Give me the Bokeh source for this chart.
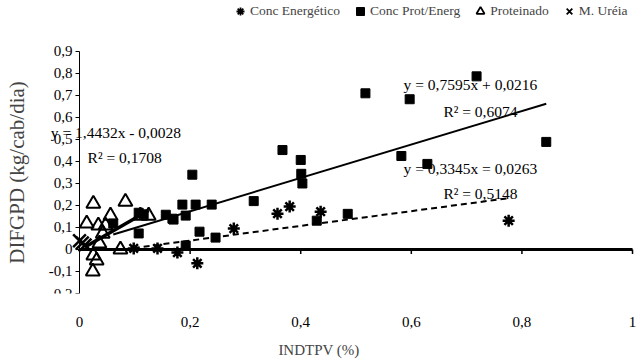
from bokeh.plotting import figure
from bokeh.models import (Range1d, Label, Legend, LegendItem, FixedTicker,
                          CustomJSTickFormatter)
from bokeh.embed import file_html
from bokeh.resources import INLINE

FONT = "Liberation Serif"

# ---- data ----
ene_x = [0.098, 0.141, 0.177, 0.213, 0.279, 0.358, 0.380, 0.436, 0.776]
ene_y = [0.005, 0.005, -0.014, -0.063, 0.095, 0.163, 0.195, 0.172, 0.131]

pe_x = [0.718, 0.517, 0.597, 0.367, 0.400, 0.401, 0.403, 0.582, 0.629, 0.844,
        0.315, 0.485, 0.429, 0.204, 0.186, 0.210, 0.239, 0.192, 0.168, 0.217,
        0.246, 0.192, 0.107, 0.116, 0.061, 0.107, 0.156, 0.170]
pe_y = [0.787, 0.710, 0.683, 0.452, 0.407, 0.344, 0.300, 0.425, 0.389, 0.489,
        0.220, 0.162, 0.131, 0.340, 0.204, 0.204, 0.204, 0.154, 0.140, 0.081,
        0.054, 0.018, 0.167, 0.160, 0.118, 0.073, 0.158, 0.136]

pro_x = [0.025, 0.083, 0.013, 0.034, 0.047, 0.056, 0.110, 0.125, 0.036, 0.025,
         0.031, 0.024, 0.074, 0.042]
pro_y = [0.208, 0.217, 0.118, 0.109, 0.109, 0.154, 0.154, 0.154, 0.027, -0.027,
         -0.050, -0.100, 0.000, 0.072]

ure_x = [0.000, 0.005, 0.010]
ure_y = [0.040, 0.030, 0.020]

# trendline coefficients (slope, intercept)
pe_a, pe_b = 0.7595, 0.0216
pro_a, pro_b = 1.4432, -0.0028
ene_a, ene_b = 0.3345, -0.0263

x_ticks = [0, 0.2, 0.4, 0.6, 0.8, 1.0]
y_ticks = [-0.2, -0.1, 0, 0.1, 0.2, 0.3, 0.4, 0.5, 0.6, 0.7, 0.8, 0.9]

series_names = ["Conc Energ\u00e9tico", "Conc Prot/Energ", "Proteinado", "M. Ur\u00e9ia"]

eq_texts = [
    "y = 0,7595x + 0,0216", "R\u00b2 = 0,6074",
    "y = 1,4432x - 0,0028", "R\u00b2 = 0,1708",
    "y = 0,3345x = 0,0263", "R\u00b2 = 0,5148",
]

NAN = float("nan")

# frame covers the whole picture except the bottom strip (so no text gets clipped)
p = figure(width=637, height=363, x_range=Range1d(-0.1429, 1.009), y_range=Range1d(-0.2, 1.1318),
           output_backend="svg", toolbar_location=None,
           min_border_left=0, min_border_right=0, min_border_top=0, min_border_bottom=70)
p.outline_line_color = None
p.xgrid.visible = False
p.ygrid.visible = False
p.background_fill_color = "white"
p.border_fill_color = "white"

fmt = CustomJSTickFormatter(code="""
if (Math.abs(tick) < 1e-9) return '0';
if (Math.abs(tick - Math.round(tick)) < 1e-9) return String(Math.round(tick));
return tick.toFixed(1).replace('.', ',');
""")

# x axis: labels only, at the bottom
xa = p.xaxis[0]
xa.ticker = FixedTicker(ticks=x_ticks)
xa.formatter = fmt
xa.axis_line_color = None
xa.major_tick_line_color = None
xa.minor_tick_line_color = None
xa.major_tick_out = 0
xa.major_tick_in = 0
xa.major_label_standoff = 23
xa.major_label_text_font = FONT
xa.major_label_text_font_size = "15px"
xa.major_label_text_color = "black"
xa.axis_label = "INDTPV (%)"
xa.axis_label_text_font = FONT
xa.axis_label_text_font_size = "15px"
xa.axis_label_text_font_style = "normal"
xa.axis_label_standoff = 12

# y axis drawn at x = 0
ya = p.yaxis[0]
ya.fixed_location = 0
ya.bounds = (-0.2, 0.9)
ya.ticker = FixedTicker(ticks=y_ticks)
ya.formatter = fmt
ya.axis_line_color = "black"
ya.axis_line_width = 1
ya.major_tick_line_color = "black"
ya.major_tick_out = 4
ya.major_tick_in = 0
ya.minor_tick_line_color = None
ya.major_label_standoff = 3
ya.major_label_text_font = FONT
ya.major_label_text_font_size = "15px"
ya.major_label_text_color = "black"
ya.axis_label = "DIFGPD (kg/cab/dia)"
ya.axis_label_text_font = FONT
ya.axis_label_text_font_size = "21px"
ya.axis_label_text_font_style = "normal"
ya.axis_label_standoff = 17

# zero line acting as the x axis, with its tick marks
p.line([x_ticks[0], x_ticks[-1]], [0, 0], line_color="black", line_width=3)
p.segment(x0=x_ticks[1:], y0=[0] * 5, x1=x_ticks[1:], y1=[-0.02] * 5,
          line_color="black", line_width=1.5)

# markers
r_pe = p.scatter(pe_x, pe_y, marker="square", size=9, color="black")
r_pro = p.scatter(pro_x, pro_y, marker="triangle", size=14, line_color="black",
                  fill_color=None, line_width=2)
r_ene = p.scatter(ene_x, ene_y, marker="asterisk", size=12, line_color="black", line_width=2.5)
r_ure = p.scatter(ure_x, ure_y, marker="x", size=18, line_color="black", line_width=2.5)

# trendlines
def trend(xs, a, b):
    x0, x1 = min(xs), max(xs)
    return [x0, x1], [a * x0 + b, a * x1 + b]

tx, ty = trend(pe_x, pe_a, pe_b)
p.line(tx, ty, line_color="black", line_width=2)
tx, ty = trend(pro_x, pro_a, pro_b)
p.line(tx, ty, line_color="black", line_width=3.5)
tx, ty = trend(ene_x, ene_a, ene_b)
p.line(tx, ty, line_color="black", line_width=2, line_dash="6 4")

# equation labels
label_pos = [(0.586, 0.751), (0.658, 0.629), (-0.052, 0.534), (0.0145, 0.416),
             (0.586, 0.367), (0.658, 0.253)]
for t, (lx, ly) in zip(eq_texts, label_pos):
    p.add_layout(Label(x=lx, y=ly, text=t, text_font=FONT, text_font_size="15.5px",
                       text_baseline="middle", text_align="left", text_color="black"))

# legend key renderers (one NaN point each, so they draw nothing in the plot)
k_ene = p.scatter([NAN], [NAN], marker="asterisk", size=9, line_color="black", line_width=1.8)
k_pe = p.scatter([NAN], [NAN], marker="square", size=9, color="black")
k_pro = p.scatter([NAN], [NAN], marker="triangle", size=9, line_color="black",
                  fill_color=None, line_width=1.8)
k_ure = p.scatter([NAN], [NAN], marker="x", size=9, line_color="black", line_width=1.8)

legend = Legend(items=[LegendItem(label=n, renderers=[r])
                       for n, r in zip(series_names, [k_ene, k_pe, k_pro, k_ure])],
                orientation="horizontal", location=(230, 271), border_line_color=None,
                background_fill_alpha=0, label_text_font=FONT, label_text_font_size="13.5px",
                glyph_width=20, glyph_height=22, label_standoff=0, spacing=10,
                padding=0, margin=0, label_height=20)
p.add_layout(legend)

open("out.html", "w").write(file_html(p, INLINE))
